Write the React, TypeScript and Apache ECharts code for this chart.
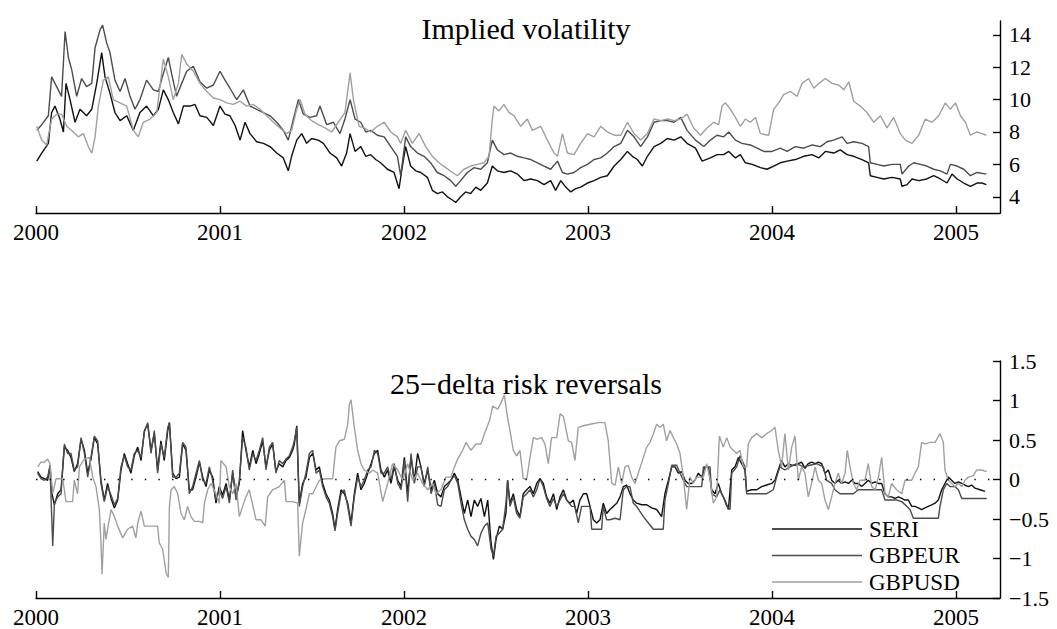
import React, { useEffect, useRef } from "react";
import * as echarts from "echarts";

// ---------- Data (decimal year, value) ----------
const yearTicks = [2000, 2001, 2002, 2003, 2004, 2005];
const volTicks = [4, 6, 8, 10, 12, 14];
const rrTicks = [-1.5, -1, -0.5, 0, 0.5, 1, 1.5];
const seriesNames = ["SERI", "GBPEUR", "GBPUSD"];

const volSERI: number[][] = [
  [2000.004,6.2],[2000.031,6.7],[2000.067,7.3],[2000.085,9.2],[2000.103,9.6],[2000.130,8.8],[2000.149,8.0],[2000.163,11.0],[2000.185,10.0],[2000.212,8.6],[2000.239,9.4],[2000.275,9.0],[2000.303,9.4],[2000.330,11.0],[2000.357,12.9],[2000.375,11.4],[2000.402,10.4],[2000.429,9.2],[2000.457,8.7],[2000.493,9.0],[2000.529,8.1],[2000.565,9.2],[2000.601,9.6],[2000.638,9.0],[2000.665,9.4],[2000.692,10.6],[2000.719,10.0],[2000.746,9.2],[2000.774,8.5],[2000.801,9.6],[2000.837,9.6],[2000.864,9.7],[2000.891,9.0],[2000.928,8.9],[2000.964,8.4],[2001.000,9.6],[2001.027,9.1],[2001.054,9.0],[2001.082,8.4],[2001.109,7.5],[2001.136,8.6],[2001.163,7.9],[2001.199,7.4],[2001.236,7.3],[2001.272,7.1],[2001.308,6.7],[2001.344,6.4],[2001.371,5.6],[2001.389,6.5],[2001.417,7.5],[2001.444,7.9],[2001.471,7.3],[2001.498,7.6],[2001.534,7.5],[2001.562,7.3],[2001.598,6.7],[2001.634,6.4],[2001.661,5.9],[2001.688,6.7],[2001.707,7.9],[2001.734,6.8],
  [2001.765,7.1],[2001.792,6.5],[2001.819,6.6],[2001.846,6.3],[2001.873,6.1],[2001.910,5.7],[2001.946,5.5],[2001.973,4.5],[2001.991,5.9],[2002.009,7.1],[2002.036,5.9],[2002.063,5.6],[2002.091,5.5],[2002.127,5.2],[2002.154,4.4],[2002.181,4.2],[2002.209,4.3],[2002.236,4.0],[2002.263,3.8],[2002.281,3.65],[2002.308,4.0],[2002.335,4.3],[2002.362,4.2],[2002.390,4.6],[2002.417,4.4],[2002.453,4.85],[2002.480,5.9],[2002.507,5.6],[2002.543,5.5],[2002.580,5.6],[2002.616,5.4],[2002.652,5.0],[2002.689,5.1],[2002.725,5.0],[2002.761,4.75],[2002.797,5.0],[2002.824,4.4],[2002.852,5.0],[2002.879,4.6],[2002.906,4.3],[2002.933,4.5],[2002.960,4.6],[2002.997,4.85],[2003.033,5.0],[2003.069,5.2],[2003.105,5.3],[2003.142,5.9],[2003.178,6.3],[2003.214,6.8],[2003.241,6.5],[2003.268,6.3],[2003.295,5.9],[2003.323,6.5],[2003.359,7.1],[2003.395,7.3],[2003.431,7.6],[2003.468,7.5],[2003.504,7.7],
  [2003.538,7.3],[2003.584,7.0],[2003.620,6.2],[2003.665,6.4],[2003.701,6.6],[2003.737,6.6],[2003.765,6.8],[2003.801,6.4],[2003.828,6.6],[2003.855,6.1],[2003.892,6.0],[2003.937,5.8],[2003.973,5.7],[2004.009,5.9],[2004.045,6.1],[2004.082,6.2],[2004.127,6.3],[2004.172,6.5],[2004.218,6.6],[2004.254,6.4],[2004.290,6.8],[2004.335,6.7],[2004.371,6.9],[2004.408,6.6],[2004.444,6.5],[2004.489,6.3],[2004.525,6.1],[2004.534,5.3],[2004.571,5.2],[2004.607,5.1],[2004.652,5.2],[2004.697,5.1],[2004.706,4.65],[2004.734,4.75],[2004.761,5.1],[2004.797,5.0],[2004.841,5.1],[2004.879,5.3],[2004.915,5.1],[2004.951,4.85],[2004.978,5.4],[2005.006,5.1],[2005.042,4.85],[2005.078,4.65],[2005.114,4.85],[2005.141,4.85],[2005.165,4.75]
];

const volEUR: number[][] = [
  [2000.004,8.1],[2000.031,8.45],[2000.067,9.0],[2000.085,11.4],[2000.112,10.8],[2000.139,10.2],[2000.158,14.2],[2000.176,12.6],[2000.194,11.85],[2000.221,10.2],[2000.248,11.3],[2000.275,10.8],[2000.303,11.0],[2000.321,13.2],[2000.348,14.3],[2000.362,14.6],[2000.384,13.5],[2000.402,12.9],[2000.429,11.2],[2000.457,10.5],[2000.484,11.3],[2000.511,10.2],[2000.538,9.4],[2000.565,10.0],[2000.601,11.2],[2000.638,10.6],[2000.665,10.5],[2000.692,11.6],[2000.719,12.6],[2000.737,11.6],[2000.764,10.2],[2000.792,11.0],[2000.819,11.75],[2000.855,12.05],[2000.891,11.1],[2000.928,10.7],[2000.964,10.9],[2001.000,11.75],[2001.027,11.2],[2001.054,10.7],[2001.091,10.0],[2001.127,10.6],[2001.163,9.6],[2001.199,9.4],[2001.236,9.2],[2001.272,9.0],[2001.308,8.6],[2001.344,8.1],[2001.371,7.5],[2001.399,8.8],[2001.426,10.0],[2001.453,9.1],[2001.489,8.9],[2001.525,9.0],[2001.543,9.6],[2001.580,8.45],[2001.616,8.6],[2001.652,7.9],[2001.679,8.8],[2001.707,10.0],[2001.734,8.8],
  [2001.765,8.6],[2001.792,8.0],[2001.819,8.1],[2001.855,7.8],[2001.892,7.7],[2001.928,7.1],[2001.964,6.5],[2001.982,5.3],[2002.009,7.7],[2002.036,7.1],[2002.073,6.7],[2002.109,6.5],[2002.145,6.1],[2002.181,5.5],[2002.218,5.3],[2002.254,5.0],[2002.281,4.65],[2002.308,5.0],[2002.344,5.5],[2002.381,5.8],[2002.417,5.7],[2002.453,6.1],[2002.480,7.5],[2002.507,6.9],[2002.543,6.6],[2002.580,6.7],[2002.616,6.5],[2002.652,6.4],[2002.689,6.3],[2002.725,6.1],[2002.761,5.9],[2002.797,5.7],[2002.834,6.2],[2002.861,5.5],[2002.888,5.4],[2002.924,5.5],[2002.960,5.8],[2002.997,6.0],[2003.033,6.3],[2003.069,6.4],[2003.105,6.7],[2003.142,7.1],[2003.178,7.3],[2003.214,8.1],[2003.250,7.7],[2003.286,7.1],[2003.323,7.7],[2003.359,8.6],[2003.395,8.7],[2003.431,8.7],[2003.468,8.6],[2003.504,8.9],
  [2003.538,8.1],[2003.584,7.5],[2003.629,7.1],[2003.665,7.5],[2003.701,7.8],[2003.737,7.7],[2003.765,8.0],[2003.801,7.5],[2003.837,7.3],[2003.882,7.2],[2003.919,7.0],[2003.955,6.8],[2004.000,6.8],[2004.045,7.0],[2004.082,6.8],[2004.127,7.1],[2004.172,7.0],[2004.218,7.2],[2004.263,7.1],[2004.299,7.4],[2004.335,7.5],[2004.381,7.7],[2004.408,7.3],[2004.444,7.4],[2004.489,7.3],[2004.525,7.1],[2004.534,6.1],[2004.571,6.0],[2004.607,5.9],[2004.652,6.0],[2004.697,6.0],[2004.706,5.4],[2004.743,5.9],[2004.770,6.1],[2004.806,6.0],[2004.841,5.9],[2004.879,5.7],[2004.915,5.6],[2004.951,5.4],[2004.969,6.0],[2005.006,5.9],[2005.042,5.7],[2005.078,5.3],[2005.114,5.5],[2005.165,5.4]
];

const volUSD: number[][] = [
  [2000.004,8.35],[2000.031,7.5],[2000.058,7.2],[2000.085,8.8],[2000.112,9.1],[2000.139,9.1],[2000.167,8.35],[2000.203,8.0],[2000.230,7.7],[2000.257,7.9],[2000.284,7.1],[2000.303,6.7],[2000.321,7.7],[2000.339,9.6],[2000.366,11.2],[2000.393,11.4],[2000.420,10.0],[2000.457,9.8],[2000.493,9.6],[2000.529,8.1],[2000.556,7.7],[2000.583,8.6],[2000.620,8.8],[2000.656,9.2],[2000.692,12.5],[2000.719,11.4],[2000.746,10.0],[2000.774,11.0],[2000.792,12.8],[2000.819,12.2],[2000.855,11.75],[2000.891,11.0],[2000.928,10.5],[2000.964,10.1],[2001.000,10.0],[2001.036,9.8],[2001.072,9.7],[2001.109,9.9],[2001.145,9.6],[2001.181,9.7],[2001.217,9.4],[2001.254,9.0],[2001.290,8.6],[2001.326,8.25],[2001.362,7.9],[2001.389,8.1],[2001.417,9.4],[2001.435,10.0],[2001.462,9.1],[2001.498,8.7],[2001.534,8.45],[2001.571,8.25],[2001.607,8.0],[2001.643,8.6],[2001.679,9.2],[2001.707,11.65],[2001.725,10.0],
  [2001.756,8.35],[2001.783,8.25],[2001.819,8.0],[2001.855,8.35],[2001.892,8.6],[2001.928,8.0],[2001.964,7.7],[2001.982,7.3],[2002.009,8.1],[2002.045,7.3],[2002.082,7.9],[2002.118,7.1],[2002.154,6.5],[2002.190,6.1],[2002.227,5.8],[2002.263,5.5],[2002.290,5.3],[2002.326,5.7],[2002.362,5.9],[2002.399,6.0],[2002.435,6.1],[2002.462,6.5],[2002.480,8.8],[2002.489,9.6],[2002.516,9.3],[2002.543,9.7],[2002.571,9.2],[2002.598,9.0],[2002.634,8.35],[2002.670,8.8],[2002.698,8.1],[2002.743,8.35],[2002.779,7.5],[2002.815,6.7],[2002.834,6.5],[2002.861,7.9],[2002.888,6.7],[2002.924,6.6],[2002.960,7.3],[2002.997,7.9],[2003.033,7.7],[2003.069,8.35],[2003.105,8.0],[2003.142,7.8],[2003.178,7.8],[2003.214,8.6],[2003.250,7.9],[2003.286,7.5],[2003.323,7.9],[2003.359,8.8],[2003.395,8.7],[2003.431,8.8],[2003.468,8.7],[2003.504,8.8],
  [2003.538,9.1],[2003.574,8.25],[2003.611,7.8],[2003.647,8.25],[2003.683,8.6],[2003.710,8.45],[2003.728,9.6],[2003.747,9.8],[2003.774,9.4],[2003.801,8.9],[2003.828,8.35],[2003.855,8.8],[2003.882,8.6],[2003.910,8.9],[2003.937,7.9],[2003.982,7.8],[2004.009,9.4],[2004.036,9.8],[2004.063,10.3],[2004.100,10.5],[2004.136,10.2],[2004.163,11.0],[2004.199,11.3],[2004.227,10.7],[2004.254,11.0],[2004.290,11.3],[2004.326,11.0],[2004.362,10.9],[2004.390,10.6],[2004.417,11.1],[2004.444,9.9],[2004.480,9.6],[2004.516,9.2],[2004.553,8.6],[2004.589,9.0],[2004.625,8.25],[2004.661,8.9],[2004.697,7.9],[2004.725,7.5],[2004.761,7.3],[2004.797,7.8],[2004.833,8.8],[2004.870,8.6],[2004.906,9.0],[2004.942,9.8],[2004.969,9.4],[2004.997,9.8],[2005.024,9.0],[2005.051,8.6],[2005.078,7.8],[2005.114,8.0],[2005.141,7.9],[2005.165,7.8]
];

const rrSERI: number[][] = [
  [2000.009,0.10],[2000.027,0.03],[2000.045,0.01],[2000.063,-0.01],[2000.076,0.18],[2000.087,-0.18],[2000.100,-0.32],[2000.118,-0.18],[2000.136,-0.13],[2000.154,0.41],[2000.172,0.37],[2000.190,0.28],[2000.208,0.10],[2000.226,0.20],[2000.245,0.51],[2000.263,0.37],[2000.281,0.08],[2000.299,0.26],[2000.317,0.53],[2000.335,0.45],[2000.353,-0.01],[2000.371,-0.26],[2000.389,-0.05],[2000.408,-0.24],[2000.426,-0.36],[2000.444,-0.26],[2000.462,0.12],[2000.480,0.33],[2000.498,0.20],[2000.516,0.08],[2000.534,0.30],[2000.553,0.41],[2000.571,0.24],[2000.589,0.62],[2000.607,0.70],[2000.625,0.37],[2000.643,0.58],[2000.661,0.12],[2000.679,0.49],[2000.697,0.24],[2000.716,0.62],[2000.725,0.72],[2000.743,0.08],[2000.761,0.01],[2000.779,0.03],[2000.797,0.45],[2000.815,0.37],[2000.833,-0.13],[2000.851,-0.13],[2000.870,0.03],[2000.888,0.22],[2000.906,0.03],[2000.924,-0.09],[2000.942,0.12],[2000.960,0.03],[2000.978,-0.30],[2000.996,-0.09],
  [2001.014,-0.20],[2001.033,-0.05],[2001.051,-0.26],[2001.069,0.08],[2001.087,-0.22],[2001.105,-0.05],[2001.123,0.62],[2001.141,0.37],[2001.159,0.16],[2001.178,0.37],[2001.196,0.20],[2001.214,0.33],[2001.232,0.49],[2001.250,0.16],[2001.268,0.37],[2001.286,0.45],[2001.304,0.10],[2001.322,0.20],[2001.341,0.16],[2001.359,0.24],[2001.377,0.28],[2001.395,0.37],[2001.404,0.45],[2001.417,0.68],[2001.431,-0.30],[2001.449,-0.05],[2001.467,0.03],[2001.486,0.28],[2001.504,0.33],[2001.522,0.12],[2001.540,0.16],[2001.558,-0.05],[2001.576,-0.18],[2001.594,-0.26],[2001.612,-0.43],[2001.625,-0.63],[2001.639,-0.38],[2001.658,-0.13],[2001.676,-0.18],[2001.694,-0.30],[2001.712,-0.55],[2001.730,-0.18],[2001.748,0.08],[2001.766,-0.13],[2001.784,-0.05],[2001.803,0.08],[2001.821,0.20],[2001.839,0.33],[2001.857,0.37],[2001.875,0.12],[2001.893,0.03],[2001.911,0.12],[2001.929,-0.05],[2001.947,0.16],[2001.966,-0.01],[2001.984,-0.09],
  [2002.002,0.28],[2002.020,-0.18],[2002.038,0.28],[2002.056,-0.01],[2002.074,0.33],[2002.092,0.16],[2002.110,-0.05],[2002.129,0.12],[2002.147,-0.13],[2002.165,-0.01],[2002.183,-0.18],[2002.201,-0.22],[2002.219,-0.09],[2002.237,-0.05],[2002.255,-0.01],[2002.274,0.08],[2002.292,-0.01],[2002.310,-0.22],[2002.328,-0.43],[2002.346,-0.26],[2002.364,-0.47],[2002.382,-0.26],[2002.400,-0.34],[2002.418,-0.24],[2002.437,-0.47],[2002.455,-0.26],[2002.473,-0.80],[2002.486,-1.01],[2002.500,-0.76],[2002.518,-0.59],[2002.536,-0.63],[2002.554,-0.43],[2002.563,-0.01],
  [2002.576,-0.30],[2002.594,-0.18],[2002.612,-0.38],[2002.630,-0.47],[2002.648,-0.18],[2002.667,-0.13],[2002.685,-0.09],[2002.703,-0.18],[2002.721,-0.05],[2002.739,0.01],[2002.757,-0.05],[2002.775,-0.22],[2002.793,-0.30],[2002.812,-0.18],[2002.830,-0.38],[2002.848,-0.22],[2002.866,-0.13],[2002.884,-0.26],[2002.902,-0.30],[2002.920,-0.26],[2002.938,-0.43],[2002.956,-0.26],[2002.975,-0.18],[2002.993,-0.18],[2003.011,-0.34],[2003.029,-0.51],[2003.047,-0.55],[2003.065,-0.51],[2003.083,-0.30],[2003.101,-0.43],[2003.119,-0.38],[2003.138,-0.34],[2003.156,-0.30],[2003.174,-0.22],[2003.192,-0.09],[2003.210,-0.07],[2003.228,-0.18],[2003.246,-0.26],[2003.264,-0.30],[2003.292,-0.32],[2003.319,-0.32],[2003.346,-0.36],[2003.373,-0.38],[2003.400,-0.47],[2003.418,-0.18],[2003.437,-0.01],[2003.455,0.16],[2003.473,0.16],[2003.491,0.08],[2003.509,0.10],[2003.527,-0.01],[2003.545,-0.05],[2003.563,-0.05],[2003.581,-0.01],[2003.600,0.08],[2003.618,0.03],[2003.636,0.16],[2003.654,0.16],[2003.672,-0.13],[2003.690,-0.18],[2003.708,-0.05],[2003.726,-0.18],[2003.744,-0.26],[2003.763,-0.38],[2003.781,0.12],[2003.799,0.16],[2003.817,0.28],[2003.835,0.20],[2003.853,0.12],[2003.862,-0.15],[2003.889,-0.13],[2003.917,-0.13],[2003.944,-0.09],[2003.971,-0.07],[2003.998,-0.05],
  [2004.016,-0.01],[2004.034,0.12],[2004.052,0.24],[2004.070,0.16],[2004.089,0.20],[2004.107,0.18],[2004.125,0.18],[2004.143,0.20],[2004.161,0.22],[2004.179,0.14],[2004.197,0.20],[2004.215,0.22],[2004.234,0.20],[2004.252,0.22],[2004.270,0.20],[2004.288,0.08],[2004.306,0.12],[2004.324,-0.01],[2004.342,-0.05],[2004.360,-0.01],[2004.378,-0.05],[2004.397,-0.03],[2004.415,-0.05],[2004.433,-0.01],[2004.451,-0.05],[2004.469,-0.05],[2004.487,-0.09],[2004.505,-0.05],[2004.523,-0.01],[2004.542,-0.05],[2004.560,-0.03],[2004.578,-0.05],[2004.596,-0.05],[2004.614,-0.18],[2004.632,-0.22],[2004.650,-0.22],[2004.668,-0.24],[2004.687,-0.22],[2004.705,-0.24],[2004.723,-0.26],[2004.741,-0.26],[2004.759,-0.34],[2004.777,-0.34],[2004.795,-0.36],[2004.813,-0.38],[2004.831,-0.36],[2004.849,-0.34],[2004.868,-0.32],[2004.886,-0.30],[2004.904,-0.26],[2004.922,-0.13],[2004.940,-0.05],[2004.958,0.03],[2004.976,-0.01],[2004.994,-0.05],[2005.013,-0.03],[2005.031,-0.05],[2005.049,-0.07],[2005.067,-0.09],[2005.085,-0.07],[2005.103,-0.11],[2005.130,-0.13],[2005.158,-0.15]
];

const rrEUR: number[][] = [
  [2000.009,0.08],[2000.027,0.01],[2000.045,-0.01],[2000.063,0.03],[2000.076,0.16],[2000.091,-0.84],[2000.100,-0.30],[2000.118,-0.22],[2000.136,-0.18],[2000.154,0.45],[2000.172,0.33],[2000.190,0.33],[2000.208,0.12],[2000.226,0.16],[2000.245,0.53],[2000.263,0.33],[2000.281,0.03],[2000.299,0.28],[2000.317,0.55],[2000.335,0.49],[2000.353,-0.05],[2000.371,-0.28],[2000.389,-0.09],[2000.408,-0.20],[2000.426,-0.32],[2000.444,-0.24],[2000.462,0.16],[2000.480,0.30],[2000.498,0.16],[2000.516,0.12],[2000.534,0.33],[2000.553,0.37],[2000.571,0.28],[2000.589,0.60],[2000.607,0.72],[2000.625,0.33],[2000.643,0.62],[2000.661,0.08],[2000.679,0.45],[2000.697,0.28],[2000.716,0.66],[2000.725,0.72],[2000.743,0.03],[2000.761,0.03],[2000.779,0.08],[2000.797,0.47],[2000.815,0.41],[2000.833,-0.18],[2000.851,-0.09],[2000.870,0.08],[2000.888,0.24],[2000.906,-0.01],[2000.924,-0.05],[2000.942,0.16],[2000.960,-0.01],[2000.978,-0.26],[2000.996,-0.13],
  [2001.014,-0.24],[2001.033,-0.09],[2001.051,-0.30],[2001.069,0.12],[2001.087,-0.26],[2001.105,-0.01],[2001.123,0.53],[2001.141,0.41],[2001.159,0.12],[2001.178,0.33],[2001.196,0.24],[2001.214,0.37],[2001.232,0.53],[2001.250,0.12],[2001.268,0.41],[2001.286,0.47],[2001.304,0.08],[2001.322,0.24],[2001.341,0.20],[2001.359,0.26],[2001.377,0.30],[2001.395,0.41],[2001.404,0.49],[2001.417,0.66],[2001.431,-0.34],[2001.449,-0.09],[2001.467,0.08],[2001.486,0.33],[2001.504,0.37],[2001.522,0.08],[2001.540,0.12],[2001.558,-0.09],[2001.576,-0.22],[2001.594,-0.30],[2001.612,-0.47],[2001.625,-0.65],[2001.639,-0.43],[2001.658,-0.18],[2001.676,-0.13],[2001.694,-0.34],[2001.712,-0.59],[2001.730,-0.22],[2001.748,0.03],[2001.766,-0.09],[2001.784,-0.01],[2001.803,0.12],[2001.821,0.16],[2001.839,0.37],[2001.857,0.33],[2001.875,0.08],[2001.893,0.08],[2001.911,0.16],[2001.929,-0.01],[2001.947,0.20],[2001.966,-0.05],[2001.984,-0.13],
  [2002.002,0.24],[2002.020,-0.28],[2002.038,0.33],[2002.056,-0.05],[2002.074,0.16],[2002.092,0.16],[2002.110,-0.09],[2002.129,0.16],[2002.147,-0.18],[2002.165,-0.05],[2002.183,-0.32],[2002.201,-0.34],[2002.219,-0.13],[2002.237,-0.09],[2002.255,-0.01],[2002.274,0.05],[2002.292,-0.05],[2002.310,-0.30],[2002.328,-0.51],[2002.346,-0.63],[2002.364,-0.72],[2002.382,-0.76],[2002.400,-0.84],[2002.418,-0.68],[2002.437,-0.59],[2002.455,-0.55],[2002.473,-0.88],[2002.486,-0.97],[2002.500,-0.72],[2002.518,-0.68],[2002.536,-0.63],[2002.554,-0.30],[2002.563,-0.01],
  [2002.576,-0.34],[2002.594,-0.22],[2002.612,-0.43],[2002.630,-0.49],[2002.648,-0.22],[2002.667,-0.18],[2002.685,-0.13],[2002.703,-0.22],[2002.721,-0.13],[2002.739,0.01],[2002.757,-0.09],[2002.775,-0.24],[2002.793,-0.34],[2002.812,-0.24],[2002.830,-0.34],[2002.848,-0.26],[2002.866,-0.18],[2002.884,-0.26],[2002.911,-0.34],[2002.929,-0.34],[2002.947,-0.55],[2002.965,-0.34],[2002.993,-0.34],[2003.011,-0.34],[2003.020,-0.63],[2003.047,-0.63],[2003.074,-0.63],[2003.083,-0.34],[2003.101,-0.51],[2003.119,-0.51],[2003.147,-0.49],[2003.174,-0.51],[2003.192,-0.13],[2003.210,-0.09],[2003.228,-0.09],[2003.246,-0.30],[2003.264,-0.34],[2003.301,-0.47],[2003.328,-0.55],[2003.355,-0.63],[2003.382,-0.63],[2003.409,-0.63],[2003.418,-0.26],[2003.437,-0.05],[2003.455,0.18],[2003.482,0.18],[2003.500,0.08],[2003.518,-0.01],[2003.536,-0.09],[2003.563,-0.09],[2003.591,-0.09],[2003.618,-0.09],[2003.627,0.16],[2003.663,0.16],[2003.672,-0.18],[2003.699,-0.22],[2003.717,-0.13],[2003.735,-0.22],[2003.754,-0.34],[2003.772,-0.38],[2003.781,0.08],[2003.808,0.16],[2003.826,0.30],[2003.853,0.16],[2003.862,-0.18],[2003.898,-0.18],[2003.935,-0.18],[2003.971,-0.18],
  [2004.007,-0.13],[2004.025,0.03],[2004.043,0.16],[2004.070,0.12],[2004.098,0.16],[2004.134,0.20],[2004.170,0.16],[2004.206,0.18],[2004.243,0.20],[2004.279,0.16],[2004.297,-0.01],[2004.324,-0.05],[2004.342,-0.13],[2004.369,-0.18],[2004.406,-0.18],[2004.442,-0.18],[2004.469,-0.13],[2004.496,-0.13],[2004.532,-0.13],[2004.569,-0.13],[2004.596,-0.13],[2004.614,-0.26],[2004.650,-0.26],[2004.677,-0.26],[2004.705,-0.28],[2004.732,-0.34],[2004.750,-0.38],[2004.768,-0.49],[2004.804,-0.49],[2004.840,-0.49],[2004.877,-0.49],[2004.904,-0.49],[2004.913,-0.34],[2004.931,-0.13],[2004.949,-0.05],[2004.967,-0.09],[2004.994,-0.09],[2005.013,-0.13],[2005.031,-0.24],[2005.067,-0.24],[2005.112,-0.24],[2005.167,-0.24]
];

const rrUSD: number[][] = [
  [2000.009,0.16],[2000.027,0.22],[2000.045,0.22],[2000.063,0.26],[2000.076,0.20],[2000.091,-0.18],[2000.109,0.01],[2000.145,0.01],[2000.163,-0.28],[2000.199,-0.28],[2000.208,-0.01],[2000.226,-0.18],[2000.236,0.16],[2000.263,0.26],[2000.290,0.28],[2000.308,0.03],[2000.326,-0.09],[2000.344,-0.38],[2000.353,-0.80],[2000.359,-1.20],[2000.371,-0.55],[2000.380,-0.76],[2000.395,-0.55],[2000.408,-0.38],[2000.426,-0.47],[2000.444,-0.59],[2000.471,-0.74],[2000.498,-0.63],[2000.525,-0.59],[2000.543,-0.74],[2000.553,-0.55],[2000.571,-0.40],[2000.589,-0.59],[2000.634,-0.59],[2000.661,-0.59],[2000.670,-0.80],[2000.688,-0.88],[2000.707,-1.18],[2000.719,-1.24],[2000.725,-0.34],[2000.734,-0.13],[2000.752,-0.09],[2000.770,-0.18],[2000.788,-0.43],[2000.806,-0.51],[2000.824,-0.34],[2000.842,-0.47],[2000.861,-0.53],[2000.888,-0.53],[2000.906,-0.55],[2000.915,-0.30],[2000.933,-0.13],[2000.951,-0.05],[2000.978,-0.18],[2000.996,-0.30],
  [2001.005,0.24],[2001.033,0.16],[2001.051,-0.09],[2001.069,-0.18],[2001.087,-0.05],[2001.105,-0.47],[2001.123,-0.34],[2001.141,-0.22],[2001.159,-0.13],[2001.196,-0.51],[2001.223,-0.51],[2001.246,-0.59],[2001.259,-0.22],[2001.286,-0.13],[2001.322,-0.09],[2001.350,-0.01],[2001.359,-0.28],[2001.395,-0.28],[2001.422,-0.30],[2001.431,-0.97],[2001.449,-0.55],[2001.467,-0.38],[2001.486,-0.18],[2001.504,-0.18],[2001.540,-0.01],[2001.576,0.01],[2001.612,0.01],[2001.630,0.41],[2001.649,0.49],[2001.676,0.51],[2001.694,0.70],[2001.703,0.95],[2001.712,1.01],[2001.730,0.66],[2001.748,0.37],[2001.766,0.20],[2001.784,0.12],[2001.812,0.08],[2001.830,0.12],[2001.857,0.08],[2001.884,-0.28],[2001.911,-0.05],[2001.938,0.20],[2001.966,0.12],[2001.993,-0.01],
  [2002.020,0.20],[2002.047,-0.01],[2002.074,0.08],[2002.101,-0.05],[2002.129,-0.13],[2002.156,-0.05],[2002.174,-0.18],[2002.201,-0.13],[2002.228,0.03],[2002.255,0.03],[2002.274,0.16],[2002.292,0.26],[2002.319,0.37],[2002.337,0.47],[2002.364,0.37],[2002.391,0.45],[2002.418,0.45],[2002.437,0.58],[2002.464,0.74],[2002.482,0.93],[2002.509,0.89],[2002.527,0.97],[2002.545,1.07],[2002.563,0.78],
  [2002.576,0.62],[2002.594,0.37],[2002.612,0.30],[2002.630,0.37],[2002.648,0.01],[2002.667,0.01],[2002.685,0.28],[2002.703,0.53],[2002.721,0.51],[2002.748,0.53],[2002.766,0.45],[2002.784,0.20],[2002.802,0.53],[2002.830,0.53],[2002.848,0.83],[2002.866,0.80],[2002.875,0.70],[2002.893,0.49],[2002.911,0.47],[2002.929,0.24],[2002.947,0.66],[2002.975,0.68],[2003.011,0.70],[2003.056,0.72],[2003.092,0.72],[2003.110,0.49],[2003.129,-0.05],[2003.147,-0.07],[2003.165,0.16],[2003.183,-0.05],[2003.201,0.16],[2003.219,0.18],[2003.237,0.03],[2003.255,-0.05],[2003.273,0.08],[2003.301,0.28],[2003.319,0.41],[2003.337,0.47],[2003.355,0.58],[2003.373,0.70],[2003.391,0.66],[2003.409,0.70],[2003.427,0.49],[2003.446,0.62],[2003.464,0.53],[2003.482,0.45],[2003.500,0.33],[2003.518,0.03],[2003.536,-0.38],[2003.554,0.03],[2003.572,-0.05],[2003.591,0.03],[2003.609,0.03],[2003.627,0.03],[2003.645,0.20],[2003.663,0.01],[2003.681,-0.30],[2003.699,-0.22],[2003.714,0.55],[2003.735,0.41],[2003.754,0.53],[2003.772,0.41],[2003.790,0.37],[2003.808,0.33],[2003.826,0.37],[2003.844,0.16],[2003.862,0.16],[2003.871,0.45],[2003.889,0.53],[2003.917,0.58],[2003.944,0.53],[2003.971,0.58],[2003.998,0.62],
  [2004.016,0.66],[2004.034,0.37],[2004.052,0.16],[2004.070,0.58],[2004.089,0.12],[2004.107,0.41],[2004.125,0.55],[2004.143,-0.01],[2004.161,0.16],[2004.179,0.08],[2004.197,-0.22],[2004.215,-0.05],[2004.234,0.16],[2004.252,-0.01],[2004.270,-0.05],[2004.288,-0.26],[2004.306,-0.38],[2004.324,-0.22],[2004.342,-0.05],[2004.360,0.08],[2004.378,-0.05],[2004.397,0.08],[2004.409,0.37],[2004.424,0.16],[2004.442,-0.05],[2004.460,-0.13],[2004.478,-0.01],[2004.505,-0.01],[2004.523,0.20],[2004.542,-0.09],[2004.560,-0.13],[2004.578,0.03],[2004.596,0.28],[2004.614,-0.18],[2004.632,-0.22],[2004.650,-0.05],[2004.677,-0.13],[2004.705,-0.18],[2004.723,-0.01],[2004.741,-0.01],[2004.759,-0.01],[2004.777,0.08],[2004.795,0.16],[2004.813,0.47],[2004.831,0.45],[2004.858,0.47],[2004.886,0.47],[2004.913,0.58],[2004.931,0.47],[2004.940,0.12],[2004.958,-0.01],[2004.976,-0.05],[2004.994,-0.09],[2005.013,-0.05],[2005.031,-0.09],[2005.049,-0.01],[2005.067,0.03],[2005.094,0.05],[2005.112,0.12],[2005.139,0.12],[2005.167,0.10]
];

// ---------- Styling ----------
const FONT = "Liberation Serif";
const COLORS = ["#111111", "#4c4c4c", "#a0a0a0"];
const X_MIN = 2000;
const X_MAX = 2005.239;

const fmtMinus = (v: number) => (v < 0 ? "\u2212" + String(Math.abs(v)) : String(v));

function xAxisFor(gridIndex: number) {
  return {
    type: "value",
    gridIndex,
    min: X_MIN,
    max: X_MAX,
    axisLine: { show: true, onZero: false, lineStyle: { color: "#000", width: 1.4 } },
    axisTick: { show: true, inside: true, length: 7, customValues: yearTicks, lineStyle: { color: "#000", width: 1.4 } },
    axisLabel: { customValues: yearTicks, formatter: (v: number) => String(Math.round(v)), fontFamily: FONT, fontSize: 23, color: "#000", margin: 8 },
    splitLine: { show: false },
  };
}

function yAxisFor(gridIndex: number, min: number, max: number, ticks: number[]) {
  return {
    type: "value",
    gridIndex,
    position: "right",
    min,
    max,
    axisLine: { show: true, onZero: false, lineStyle: { color: "#000", width: 1.4 } },
    axisTick: { show: true, inside: true, length: 7, customValues: ticks, lineStyle: { color: "#000", width: 1.4 } },
    axisLabel: { customValues: ticks, formatter: fmtMinus, fontFamily: FONT, fontSize: 22, color: "#000", margin: 9 },
    splitLine: { show: false },
  };
}

function lineSeries(name: string, data: number[][], idx: number, color: string, extra: any = {}) {
  return {
    type: "line",
    name,
    xAxisIndex: idx,
    yAxisIndex: idx,
    data,
    showSymbol: false,
    symbol: "none",
    lineStyle: { color, width: 1.4 },
    itemStyle: { color },
    emphasis: { disabled: true },
    ...extra,
  };
}

export default function App() {
  const ref = useRef<HTMLDivElement>(null);

  useEffect(() => {
    if (!ref.current) return;
    const chart = echarts.init(ref.current, null, { renderer: "svg" });
    const option: any = {
      animation: false,
      backgroundColor: "#ffffff",
      color: COLORS,
      textStyle: { fontFamily: FONT },
      title: [
        { text: "Implied volatility", left: 521, top: 8, textAlign: "center", textStyle: { fontFamily: FONT, fontSize: 30, fontWeight: "normal", color: "#000" } },
        { text: "25\u2212delta risk reversals", left: 521, top: 363, textAlign: "center", textStyle: { fontFamily: FONT, fontSize: 30, fontWeight: "normal", color: "#000" } },
      ],
      legend: {
        data: seriesNames,
        orient: "vertical",
        left: 767,
        top: 512,
        icon: "rect",
        itemWidth: 90,
        itemHeight: 1.5,
        itemGap: 2.5,
        selectedMode: false,
        textStyle: { fontFamily: FONT, fontSize: 23, color: "#000", lineHeight: 24, padding: [0, 0, 0, 2] },
      },
      grid: [
        { left: 36, top: 21, width: 964, height: 192 },
        { left: 36, top: 361, width: 964, height: 240 },
      ],
      xAxis: [xAxisFor(0), xAxisFor(1)],
      yAxis: [yAxisFor(0, 3, 14.85, volTicks), yAxisFor(1, -1.5, 1.5, rrTicks)],
      series: [
        lineSeries("SERI", volSERI, 0, COLORS[0]),
        lineSeries("GBPEUR", volEUR, 0, COLORS[1]),
        lineSeries("GBPUSD", volUSD, 0, COLORS[2]),
        lineSeries("SERI", rrSERI, 1, COLORS[0], {
          markLine: {
            silent: true,
            symbol: ["none", "none"],
            label: { show: false },
            lineStyle: { color: "#000", type: [1.4, 12.2], width: 1.4 },
            data: [{ yAxis: 0 }],
          },
        }),
        lineSeries("GBPEUR", rrEUR, 1, COLORS[1]),
        lineSeries("GBPUSD", rrUSD, 1, COLORS[2]),
      ],
    };
    chart.setOption(option);
    return () => chart.dispose();
  }, []);

  return (
    <div
      ref={ref}
      style={{ position: "fixed", left: 0, top: 0, width: 1057, height: 629, background: "#fff" }}
    />
  );
}
